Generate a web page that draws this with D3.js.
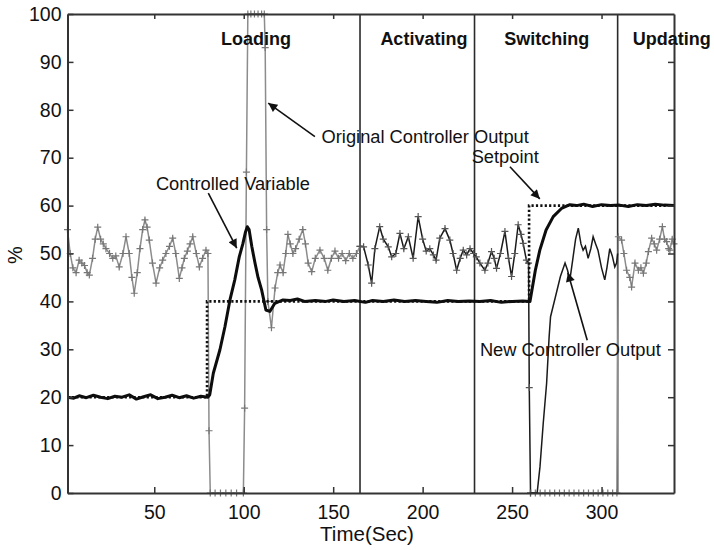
<!DOCTYPE html>
<html><head><meta charset="utf-8">
<script src="https://cdn.jsdelivr.net/npm/d3@7"></script>
<style>body{margin:0;background:#fff} text{font-family:"Liberation Sans",Arial,Helvetica,sans-serif;fill:#111}</style>
</head><body><svg id="c" width="714" height="550"></svg>
<script>
// ---- data ----
const xTicks = [50, 100, 150, 200, 250, 300];
const yTicks = [0, 10, 20, 30, 40, 50, 60, 70, 80, 90, 100];
const phaseBounds = [165, 229, 309];
const phaseNames = ["Loading", "Activating", "Switching", "Updating"];

// original controller output, loading phase [time, %]
const originalOutput = [[1.5,55],[3,50],[4.5,47],[6.3,46],[8,48.6],[9.5,48],[11,47.5],[12.5,46],[13.7,45.5],[15.5,49],[17,53],[18.4,55.5],[20,53],[21.5,52],[23,51],[25,50],[26.8,49],[28.5,49.5],[30.4,47.2],[32.5,50],[34.2,53.5],[36,50],[37.5,45],[38.8,41.7],[40.5,46],[42,51],[43.5,55],[44.8,57],[46,55.5],[47.2,52.8],[49,48],[51,43.8],[53,47],[54.7,48.6],[56.5,50],[58.5,51.5],[60.3,53.2],[62,50],[64,44.8],[65.5,47],[66.8,49],[68.5,50.5],[70,52],[71.5,53.5],[73.5,50],[75.2,47.2],[77,49],[78.9,50.7],[80,50],[80.6,13],[81.3,0],[84,0],[87,0],[90,0],[93,0],[96,0],[99.8,0],[100.5,17.7],[101.5,67],[102.3,100],[104,100],[106,100],[108,100],[110,100],[111.5,100],[112,93],[112.8,55],[113.5,40],[115.5,34.5],[117.5,42.8],[119,46],[120.3,47.6],[122,46],[123.5,50],[124.7,54],[126,52],[127.5,50],[129,51],[131,53],[133,55],[134.5,52],[136,48],[138,46.2],[140,49],[142.6,50.7],[145,49],[147,46.5],[149,49],[151,50.5],[153,49],[155,50],[157,48.5],[159,50],[161,49],[163,50],[165,51.5]];
// both outputs while tracking (activating / switching)
const trackingOutput = [[165,51.5],[167,51.4],[169.6,47.6],[171.5,43.8],[173.3,51],[176,55.6],[178,53],[180.8,51.4],[182.7,49.3],[185,50],[187.3,54.2],[189.5,51],[192,53.5],[194.7,49],[197.5,57.7],[200,53],[202,50.5],[204,51],[206,49.7],[207.5,48.6],[209.6,53.2],[212.5,55.2],[215.2,52.8],[217,50],[219,46.5],[221,49],[222.7,50.7],[224.6,49.7],[226.5,51],[228.5,50],[230,49.3],[232,48],[234.8,46.5],[236.5,48],[238.5,50.4],[240,49],[241.3,46.9],[243.5,50],[246,54.6],[248,49],[249.7,45.2],[251.5,50],[253.4,56],[255,54],[256.2,52.1],[258,48.6],[259.2,48],[259.6,22],[260.3,0]];
// original controller output after switching
const originalAfter = [[260.3,0],[263,0],[265.7,0],[268.4,0],[271.1,0],[273.8,0],[276.5,0],[279.2,0],[281.9,0],[284.6,0],[287.3,0],[290,0],[292.7,0],[295.4,0],[298.1,0],[300.8,0],[303.5,0],[306.2,0],[308.6,0],[309.4,53.5],[311.2,52.8],[312.5,50],[314,46.5],[315.8,45],[316.8,43],[318.7,48],[320.6,46.5],[322,47],[323.4,45.9],[325,48],[326.2,50.4],[328,53.2],[329.5,52],[330.8,50.7],[332.5,53],[334,55.6],[335.2,53],[336.4,52.5],[337.5,51],[338.2,50.7],[339.5,53],[340.5,52]];
// new controller output
const newOutput = [[260.3,0],[264,0],[265.6,5.5],[267.4,14.5],[269.3,22.9],[270.7,32.6],[271.5,36.8],[274,40.6],[277,45.2],[279.6,48],[281,46.5],[282.3,44.5],[284,49],[285.5,53],[287,55.3],[288.5,52],[289.7,50.7],[291,51.5],[292.5,49],[294,51],[295.3,53.5],[296.7,52],[298,50.7],[300,47],[301.8,44.5],[303,47],[304.6,51],[306,49.5],[307.4,47.2],[308.4,48],[309,50]];
// controlled variable
const controlledVariable = [[1.5,20],[5,19.8],[8,20.3],[12,19.9],[16,20.4],[20,20],[24,19.7],[28,20.2],[32,20],[36,20.5],[40,19.6],[44,20.1],[48,20.5],[52,19.7],[56,20],[60,20.4],[64,19.9],[68,20.3],[72,19.8],[76,20.2],[80,20],[81,20.5],[83,25],[86.7,29.9],[89.5,34.7],[92.3,40.3],[95,44.5],[97.5,49.3],[99.5,52],[101,54.5],[102,55.6],[103,55],[104.5,51.5],[106.3,48],[108,45],[110,42.4],[112.4,38.2],[114.6,37.9],[117.4,39.6],[120,40],[122,40.3],[126,40.2],[130,40.5],[134,40],[140,40.2],[146,40],[150,40.3],[156,40],[162,40.2],[168,39.8],[172,40.2],[178,40],[184,40.3],[190,40],[196,40.2],[202,40],[208,39.8],[214,40.2],[220,40],[226,40.1],[232,40],[238,40.2],[244,39.8],[250,40],[256,40.1],[260,40],[263,46.5],[265.5,50.7],[269,54.9],[273,57.7],[277.6,59.4],[282.3,60.2],[286,60],[290,60.3],[295,59.8],[300,60.2],[305,60],[310,60.1],[315,59.8],[320,60.2],[325,60],[330,60.3],[335,60.1],[340.5,60]];
// setpoint (step after)
const setpoint = [[1.5,20],[79.5,40],[259.5,60],[340.5,60]];

// ---- chart ----
const svg = d3.select("#c");
const x = d3.scaleLinear().domain([1.5, 340.5]).range([67.5, 674]);
const y = d3.scaleLinear().domain([0, 100]).range([493, 14]);
const line = d3.line().x(d => x(d[0])).y(d => y(d[1]));

// arrow marker
svg.append("defs").append("marker")
  .attr("id","ah").attr("viewBox","0 0 10 10").attr("refX",10).attr("refY",5)
  .attr("markerUnits","userSpaceOnUse").attr("markerWidth",12).attr("markerHeight",9)
  .attr("orient","auto")
  .append("path").attr("d","M0,0L10,5L0,10z").attr("fill","#111");

// phase boundaries
svg.append("g").selectAll("line").data(phaseBounds).join("line")
  .attr("x1", d => x(d)).attr("x2", d => x(d)).attr("y1", y(0)).attr("y2", y(100))
  .attr("stroke", "#2a2a2a").attr("stroke-width", 1.6);

function crosses(data, color) {
  svg.append("g").selectAll("path").data(data).join("path")
    .attr("transform", d => `translate(${x(d[0])},${y(d[1])})`)
    .attr("d", "M-3.5,0H3.5M0,-3.5V3.5")
    .attr("stroke", color).attr("stroke-width", 1.2).attr("fill", "none");
}

// original controller output (gray)
svg.append("path").datum(originalOutput).attr("d", line)
  .attr("fill","none").attr("stroke","#8c8c8c").attr("stroke-width",1.5);
crosses(originalOutput, "#777");
svg.append("path").datum(originalAfter).attr("d", line)
  .attr("fill","none").attr("stroke","#8c8c8c").attr("stroke-width",1.5);
crosses(originalAfter, "#777");

// tracking / new controller output (black)
svg.append("path").datum(trackingOutput).attr("d", line)
  .attr("fill","none").attr("stroke","#1a1a1a").attr("stroke-width",1.5);
crosses(trackingOutput, "#555");
svg.append("path").datum(newOutput).attr("d", line)
  .attr("fill","none").attr("stroke","#1a1a1a").attr("stroke-width",1.5);

// setpoint
svg.append("path").datum(setpoint)
  .attr("d", d3.line().x(d => x(d[0])).y(d => y(d[1])).curve(d3.curveStepAfter))
  .attr("fill","none").attr("stroke","#111").attr("stroke-width",2.6)
  .attr("stroke-dasharray","2.2,2.2");

// controlled variable
svg.append("path").datum(controlledVariable).attr("d", line)
  .attr("fill","none").attr("stroke","#0d0d0d").attr("stroke-width",3)
  .attr("stroke-linejoin","round");

// axes
const axStyle = g => {
  g.select(".domain").attr("stroke","#333").attr("stroke-width",2);
  g.selectAll(".tick line").attr("stroke","#333").attr("stroke-width",1.5);
  g.selectAll("text").attr("font-size",19.5).attr("fill","#111")
    .attr("font-family",'"Liberation Sans",Arial,sans-serif');
};
svg.append("g").attr("transform",`translate(${x.range()[0]},0)`)
  .call(d3.axisLeft(y).tickValues(yTicks).tickSizeInner(-6).tickSizeOuter(0).tickPadding(6))
  .call(axStyle);
svg.append("g").attr("transform",`translate(0,${y(0)})`)
  .call(d3.axisBottom(x).tickValues(xTicks).tickSizeInner(-6).tickSizeOuter(0).tickPadding(12))
  .call(axStyle);
svg.append("g").attr("transform",`translate(0,${y(100)})`)
  .call(d3.axisTop(x).tickValues(xTicks).tickSizeInner(-5).tickSizeOuter(0).tickFormat(""))
  .call(axStyle);
svg.append("g").attr("transform",`translate(${x.range()[1]},0)`)
  .call(d3.axisRight(y).tickValues(yTicks.slice(1,-1)).tickSizeInner(-6).tickSizeOuter(0).tickFormat(""))
  .call(axStyle);

// axis titles
svg.append("text").attr("x", 367).attr("y", 541).attr("text-anchor","middle")
  .attr("font-size", 20.5).text("Time(Sec)");
svg.append("text").attr("transform","translate(22,255) rotate(-90)").attr("text-anchor","middle")
  .attr("font-size", 20).text("%");

// phase labels
const phaseLabelT = [106.8, 200.7, 269.4, 339.3];
svg.append("g").selectAll("text").data(phaseNames).join("text")
  .attr("x", (d,i) => x(phaseLabelT[i])).attr("y", 45).attr("text-anchor","middle")
  .attr("font-size", 18).attr("font-weight","bold").text(d => d);

// annotations
const notes = [
  {text:"Original Controller Output", t:143.5, v:73.1},
  {text:"Setpoint", t:227.4, v:68.9},
  {text:"Controlled Variable", t:50.9, v:63.3},
  {text:"New Controller Output", t:232, v:28.6}
];
svg.append("g").selectAll("text").data(notes).join("text")
  .attr("x", d => x(d.t)).attr("y", d => y(d.v)).attr("font-size", 18.3).text(d => d.text);

const arrows = [
  {from:[80.2,62.6], to:[96.1,51.1]},
  {from:[139.8,74.4], to:[113.7,81.4]},
  {from:[248.8,68.1], to:[265.5,61.4]},
  {from:[292,31.9], to:[281.2,46]}
];
svg.append("g").selectAll("line").data(arrows).join("line")
  .attr("x1", d => x(d.from[0])).attr("y1", d => y(d.from[1]))
  .attr("x2", d => x(d.to[0])).attr("y2", d => y(d.to[1]))
  .attr("stroke","#111").attr("stroke-width",1.6).attr("marker-end","url(#ah)");
</script>
</body></html>
